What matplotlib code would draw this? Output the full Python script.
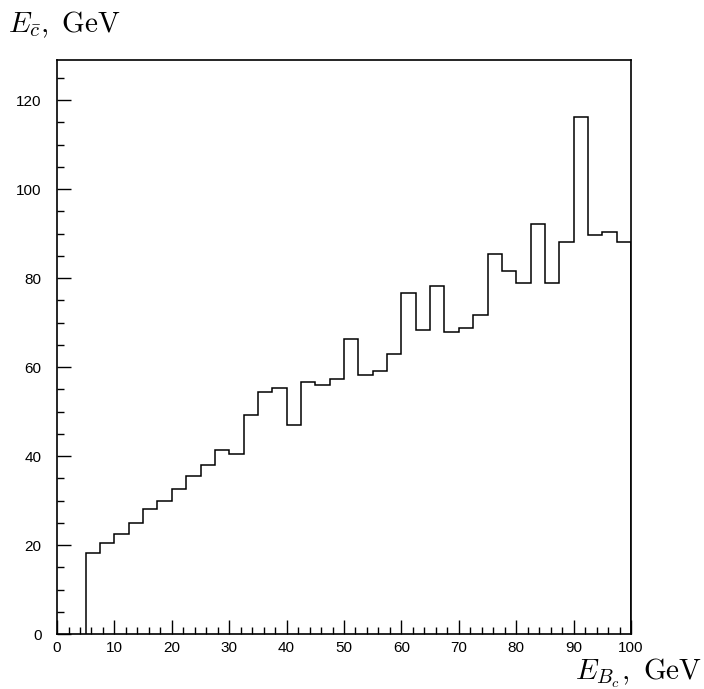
import numpy as np
import matplotlib
matplotlib.use("Agg")
import matplotlib.pyplot as plt
from matplotlib.ticker import MultipleLocator

plt.rcParams['mathtext.fontset'] = 'cm'
plt.rcParams['font.family'] = ['Liberation Sans', 'DejaVu Sans']

bin_low = 5.0
bin_high = 100.0
bin_width = 2.5
energy_c = [18.3, 20.4, 22.5, 24.9, 28.0, 29.8, 32.7, 35.4, 37.9, 41.3,
            40.4, 49.2, 54.5, 55.2, 47.0, 56.6, 56.0, 57.2, 66.4, 58.2,
            59.0, 63.0, 76.7, 68.3, 78.2, 67.8, 68.7, 71.8, 85.4, 81.5,
            78.9, 92.2, 78.9, 88.2, 116.1, 89.7, 90.3, 88.0]
edges = np.arange(bin_low, bin_high + bin_width / 2, bin_width)

x_ticks = [0, 10, 20, 30, 40, 50, 60, 70, 80, 90, 100]
y_ticks = [0, 20, 40, 60, 80, 100, 120]

fig = plt.figure(figsize=(7.04, 6.89), dpi=100)
ax = fig.add_axes([0.081, 0.0798, 0.8153, 0.8331])
ax.stairs(energy_c, edges, baseline=0, color='black', linewidth=1.1)

ax.set_xlim(0, 100)
ax.set_ylim(0, 129)
ax.set_xticks(x_ticks)
ax.set_yticks(y_ticks)
ax.xaxis.set_minor_locator(MultipleLocator(2))
ax.yaxis.set_minor_locator(MultipleLocator(5))
ax.tick_params(which='both', direction='in', top=False, right=False, labelsize=11, width=1.0)
ax.tick_params(which='major', length=10)
ax.tick_params(which='minor', length=5)
ax.tick_params(axis='x', which='major', pad=5)
ax.tick_params(axis='y', which='major', pad=11)
for s in ax.spines.values():
    s.set_linewidth(1.2)

fig.text(0.012, 0.9536, r'$E_{\bar{c}},\ \mathrm{GeV}$', fontsize=21, ha='left', va='baseline')
fig.text(0.998, 0.013, r'$E_{B_c},\ \mathrm{GeV}$', fontsize=21, ha='right', va='baseline')

fig.savefig('out.png', dpi=100)
